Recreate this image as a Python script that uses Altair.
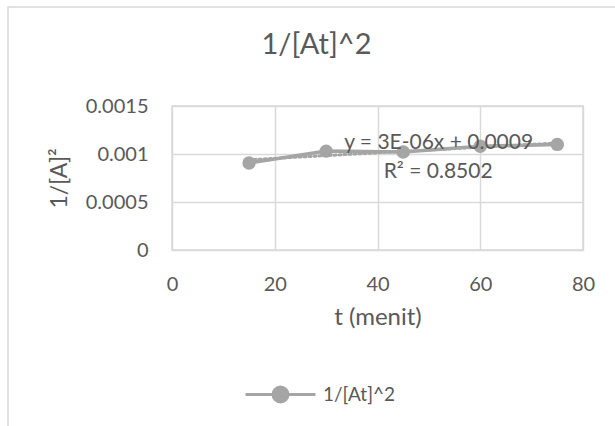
import altair as alt
import pandas as pd

t_values = [15, 30, 45, 60, 75]
inv_a2 = [0.000906, 0.00103, 0.00102, 0.00108, 0.0011]
series_name = "1/[At]^2"
x_ticks = [0, 20, 40, 60, 80]
y_ticks = [0, 0.0005, 0.001, 0.0015]
eq_text = ["y = 3E-06x + 0.0009", "R² = 0.8502"]
eq_x = [51.9, 51.8]
eq_y = [0.001115, 0.000813]

FONT = "Lato"
GRAY = "#A5A5A5"
TXT = "#595959"
GRID = "#D9D9D9"

df = pd.DataFrame({"t": t_values, "v": inv_a2, "s": [series_name] * len(t_values)})
ann = pd.DataFrame({"x": eq_x, "y": eq_y, "label": eq_text})

xs = alt.Scale(domain=[0, 80])
ys = alt.Scale(domain=[0, 0.0015])

xax = alt.Axis(values=x_ticks, title="t (menit)", grid=True, ticks=False, domain=False,
               labelPadding=24, titlePadding=11, format="d", labelFlush=False,
               titleFontSize=24)
yax = alt.Axis(values=y_ticks, title="1/[A]²", grid=True, ticks=False, domain=False,
               labelPadding=24, titlePadding=14, format="~g", labelFlush=False)

sym = "M-1,0L1,0M-0.214,0A0.214,0.214,0,1,1,0.214,0A0.214,0.214,0,1,1,-0.214,0Z"

frame = alt.Chart(pd.DataFrame({"a": [0]})).mark_rect(
    fill=None, stroke=GRID, strokeWidth=1.5
).encode(x=alt.value(-164), x2=alt.value(480), y=alt.value(-99), y2=alt.value(420))

line = alt.Chart(df).mark_line(strokeWidth=3.5, point=alt.OverlayMarkDef(size=180, filled=True, opacity=1)).encode(
    x=alt.X("t:Q", scale=xs, axis=xax),
    y=alt.Y("v:Q", scale=ys, axis=yax),
    color=alt.Color("s:N", scale=alt.Scale(domain=[series_name], range=[GRAY]),
                    legend=alt.Legend(title=None, orient="none", legendX=72, legendY=252,
                                      symbolType=sym, symbolSize=4900, symbolStrokeWidth=3,
                                      symbolFillColor=GRAY, symbolStrokeColor=GRAY,
                                      labelFontSize=19, labelColor=TXT, labelFont=FONT,
                                      padding=0, labelOffset=6)),
)

trend = alt.Chart(df).transform_regression("t", "v").mark_line(
    color=GRAY, strokeWidth=3, strokeDash=[2, 3], strokeCap="round"
).encode(x=alt.X("t:Q", scale=xs), y=alt.Y("v:Q", scale=ys))

text = alt.Chart(ann).mark_text(font=FONT, fontSize=21, color=TXT).encode(
    x=alt.X("x:Q", scale=xs), y=alt.Y("y:Q", scale=ys), text="label:N"
)

chart = alt.layer(frame, line, trend, text).properties(
    width=411, height=144,
    background="white",
    title=alt.TitleParams(series_name, font=FONT, fontSize=29, fontWeight="normal",
                          color=TXT, anchor="middle", dx=-61, offset=-54, frame="group"),
    autosize=alt.AutoSizeParams(type="none"),
    padding={"left": 172, "top": 106, "right": 32, "bottom": 176},
).configure_view(stroke=GRID, strokeWidth=1.5).configure_axis(
    gridColor=GRID, gridWidth=1.5, labelFont=FONT, labelFontSize=20, labelColor=TXT,
    titleFont=FONT, titleFontSize=23, titleColor=TXT, titleFontWeight="normal"
)

chart.save("out.html", embed_options={"renderer": "svg", "actions": False})
